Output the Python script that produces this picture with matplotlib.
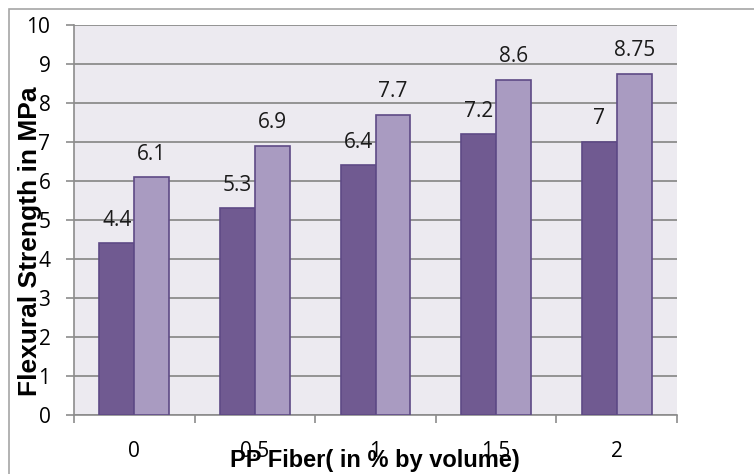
import matplotlib
matplotlib.use("Agg")
import matplotlib.pyplot as plt
from matplotlib.patches import Rectangle
import numpy as np

# ── Data ──────────────────────────────────────────────────────────
categories = ["0", "0.5", "1", "1.5", "2"]
series_a = [4.4, 5.3, 6.4, 7.2, 7.0]
series_b = [6.1, 6.9, 7.7, 8.6, 8.75]
labels_a = ["4.4", "5.3", "6.4", "7.2", "7"]
labels_b = ["6.1", "6.9", "7.7", "8.6", "8.75"]
y_ticks = [0, 1, 2, 3, 4, 5, 6, 7, 8, 9, 10]

plt.rcParams['font.family'] = ['Open Sans', 'DejaVu Sans']

fig = plt.figure(figsize=(7.54, 4.74), dpi=100)
W, H = 754, 474
ax = fig.add_axes([74 / W, 1 - 415 / H, (677 - 74) / W, (415 - 25) / H])

# outer chart border
fig.patches.append(Rectangle((9 / W, -0.1), 1.2, 1.1 - 9 / H,
                             transform=fig.transFigure, fill=False,
                             edgecolor='#A6A6A6', linewidth=1.2))

ax.set_facecolor('#ECEAF0')
x = np.arange(len(categories))
bw = 0.29
dark, light = '#705A91', '#A99BC1'
edge = '#5E4A86'
ax.bar(x - bw / 2, series_a, bw, color=dark, edgecolor=edge, linewidth=1.2, zorder=3)
ax.bar(x + bw / 2, series_b, bw, color=light, edgecolor=edge, linewidth=1.2, zorder=3)

for xi, v, t in zip(x, series_a, labels_a):
    ax.annotate(t, (xi - bw / 2, v), xytext=(0, 9), textcoords='offset points',
                ha='center', va='bottom', fontsize=15, color='#1a1a1a')
for xi, v, t in zip(x, series_b, labels_b):
    ax.annotate(t, (xi + bw / 2, v), xytext=(0, 9), textcoords='offset points',
                ha='center', va='bottom', fontsize=15, color='#1a1a1a')

ax.set_xlim(-0.5, len(categories) - 0.5)
ax.set_ylim(0, 10)
ax.set_yticks(y_ticks)
ax.set_yticklabels([str(t) for t in y_ticks], fontsize=15)
ax.yaxis.grid(True, color='#8C8C8C', linewidth=1.3, zorder=0)
ax.set_axisbelow(True)

ax.set_xticks(x)
ax.set_xticklabels(categories, fontsize=15)
ax.set_xticks(np.arange(-0.5, len(categories)), minor=True)
ax.tick_params(axis='x', which='major', length=0, pad=19)
ax.tick_params(axis='x', which='minor', length=5.5, color='#8C8C8C', width=1.2)
ax.tick_params(axis='y', length=6, color='#8C8C8C', width=1.2, pad=11)

for s in ['top', 'right']:
    ax.spines[s].set_visible(False)
for s in ['left', 'bottom']:
    ax.spines[s].set_color('#8C8C8C')
    ax.spines[s].set_linewidth(1.2)

fig.text(30 / W, 1 - 241 / H, "Flexural Strength in MPa", rotation=90,
         ha='center', va='center', fontsize=19, fontweight='bold', family='Liberation Sans')
fig.text(375 / W, 1 - 460 / H, "PP Fiber( in % by volume)",
         ha='center', va='center', fontsize=17, fontweight='bold', family='Liberation Sans')

fig.savefig("out.png", dpi=100)
